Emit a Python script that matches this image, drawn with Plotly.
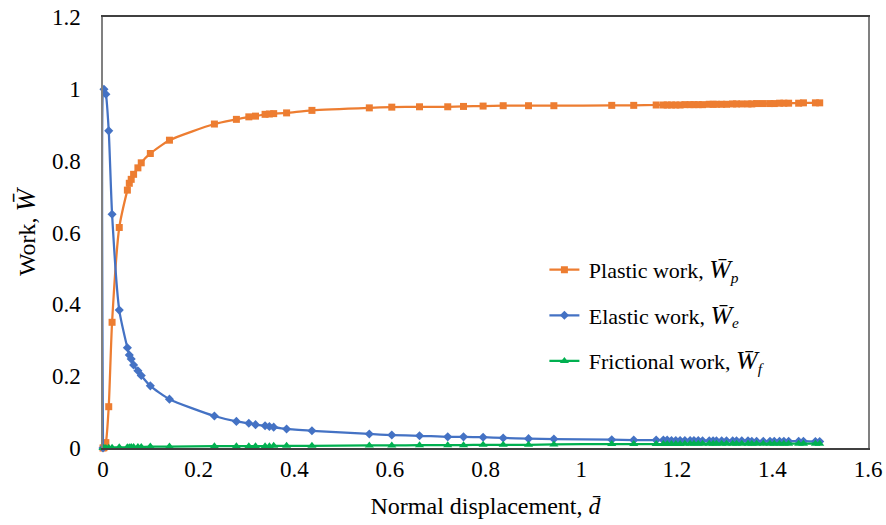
import plotly.graph_objects as go

# Normal displacement (dimensionless), shared by all three work components
d = [0, 0.002, 0.006, 0.012, 0.019, 0.034, 0.051, 0.055, 0.059, 0.064, 0.073,
     0.080, 0.099, 0.139, 0.233, 0.279, 0.305, 0.319, 0.339, 0.348, 0.357,
     0.384, 0.437, 0.557, 0.604, 0.662, 0.721, 0.754, 0.795, 0.837, 0.890,
     0.943, 1.064, 1.110, 1.157, 1.172, 1.180, 1.189, 1.198, 1.207, 1.217,
     1.228, 1.236, 1.245, 1.254, 1.268, 1.276, 1.283, 1.294, 1.304, 1.317,
     1.325, 1.336, 1.349, 1.357, 1.367, 1.381, 1.395, 1.404, 1.415, 1.424,
     1.434, 1.455, 1.465, 1.490, 1.499]

plastic = [0, 0.001, 0.015, 0.115, 0.350, 0.614, 0.718, 0.737, 0.748, 0.762,
           0.780, 0.794, 0.820, 0.857, 0.902, 0.915, 0.922, 0.924, 0.929,
           0.930, 0.931, 0.933, 0.940, 0.947, 0.949, 0.950, 0.950, 0.951,
           0.952, 0.953, 0.953, 0.953, 0.954, 0.954, 0.955, 0.955, 0.955,
           0.955, 0.955, 0.955, 0.956, 0.956, 0.956, 0.956, 0.956, 0.957,
           0.957, 0.957, 0.957, 0.957, 0.958, 0.958, 0.958, 0.958, 0.958,
           0.959, 0.959, 0.959, 0.959, 0.960, 0.960, 0.960, 0.960, 0.961,
           0.961, 0.961]

elastic = [0, 0.999, 0.985, 0.883, 0.651, 0.384, 0.279, 0.259, 0.248, 0.231,
           0.215, 0.202, 0.173, 0.136, 0.089, 0.074, 0.069, 0.065, 0.062,
           0.060, 0.058, 0.053, 0.048, 0.039, 0.036, 0.034, 0.031, 0.031,
           0.030, 0.028, 0.026, 0.025, 0.023, 0.022, 0.022, 0.022, 0.022,
           0.021, 0.021, 0.021, 0.021, 0.021, 0.021, 0.021, 0.020, 0.020,
           0.020, 0.020, 0.020, 0.020, 0.020, 0.020, 0.020, 0.020, 0.019,
           0.019, 0.019, 0.019, 0.019, 0.019, 0.019, 0.019, 0.019, 0.019,
           0.018, 0.018]

frictional = [0, 0, 0, 0.001, 0.001, 0.002, 0.002, 0.002, 0.003, 0.003,
              0.003, 0.003, 0.004, 0.004, 0.005, 0.005, 0.005, 0.005, 0.005,
              0.005, 0.006, 0.006, 0.006, 0.007, 0.007, 0.008, 0.008, 0.008,
              0.009, 0.009, 0.009, 0.010, 0.011, 0.011, 0.011, 0.011, 0.011,
              0.011, 0.011, 0.011, 0.012, 0.012, 0.012, 0.012, 0.012, 0.012,
              0.012, 0.012, 0.012, 0.012, 0.012, 0.012, 0.012, 0.012, 0.012,
              0.012, 0.012, 0.012, 0.012, 0.012, 0.012, 0.012, 0.012, 0.012,
              0.012, 0.012]


def wbar(sub, size=26):
    """Italic W with an overbar and an italic subscript."""
    core = "<span style='font-size:%dpx'><i>W\u0304</i></span>" % size
    if sub:
        core += "<sub><i>%s</i></sub>" % sub
    return core


series = [
    ("\u2009Plastic work, " + wbar("p"), plastic, "#ED7D31", "square", 7),
    ("\u2009Elastic work, " + wbar("e"), elastic, "#4472C4", "diamond", 7),
    ("\u2009Frictional work, " + wbar("f"), frictional, "#00B050", "triangle-up", 8),
]

FONT = "Liberation Serif, Times New Roman, serif"

fig = go.Figure()
for i, (name, vals, color, symbol, msize) in enumerate(series):
    fig.add_trace(go.Scatter(
        x=d, y=vals, name=name, mode="lines+markers",
        line=dict(color=color, width=2.25, shape="spline", smoothing=0.6),
        marker=dict(color=color, symbol=symbol, size=msize, line=dict(width=0)),
        cliponaxis=False, legendgroup=str(i),
    ))

fig.update_layout(
    width=886, height=525,
    margin=dict(l=103, r=18, t=17, b=77),
    paper_bgcolor="white", plot_bgcolor="white",
    font=dict(family=FONT, size=22, color="#000000"),
    showlegend=True,
    legend=dict(x=0.577, y=0.462, xanchor="left", yanchor="top",
                font=dict(family=FONT, size=22, color="#000000"),
                bgcolor="rgba(0,0,0,0)", tracegroupgap=14),
    xaxis=dict(range=[0, 1.6], dtick=0.2, tick0=0, showgrid=False,
               zeroline=False, showline=True, linecolor="#404040",
               linewidth=1.5, mirror=True, ticks="", automargin=False,
               tickfont=dict(family=FONT, size=23, color="#000000"),
               title=dict(text="Normal displacement, <i>d\u0304</i>",
                          font=dict(family=FONT, size=24, color="#000000"),
                          standoff=16)),
    yaxis=dict(range=[0, 1.2], dtick=0.2, tick0=0, showgrid=False,
               zeroline=False, showline=True, linecolor="#808080",
               linewidth=1.5, mirror=True, ticks="", automargin=False,
               tickfont=dict(family=FONT, size=23, color="#000000"),
               ticklabelstandoff=16,
               title=dict(text="Work, " + wbar(None, 27),
                          font=dict(family=FONT, size=24, color="#000000"),
                          standoff=10)),
)

fig.write_html("out.html")
